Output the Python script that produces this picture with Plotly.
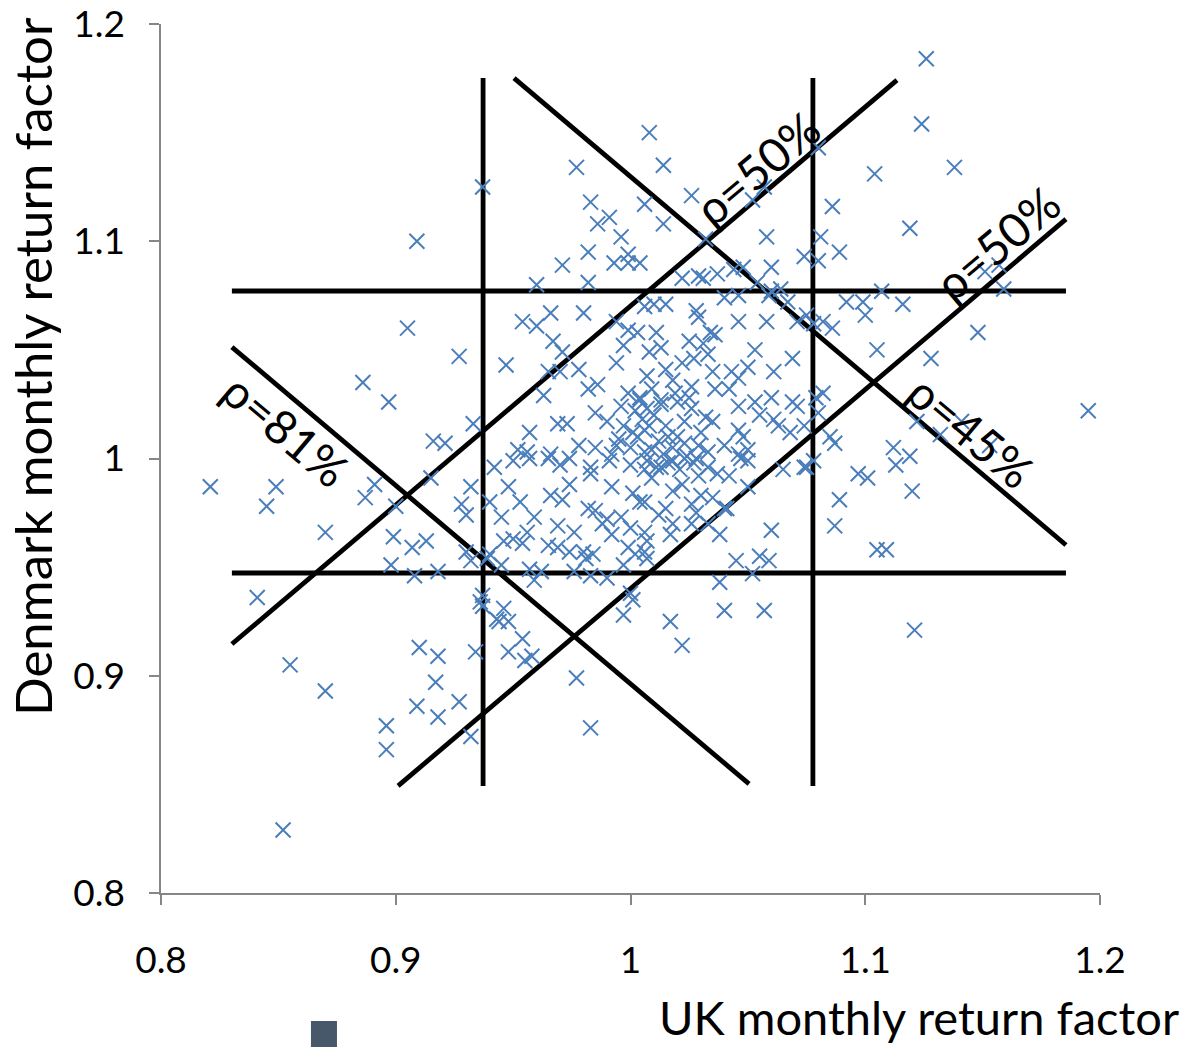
import plotly.graph_objects as go

# Monthly return factors (UK, Denmark)
uk_dk_points = [
    (1.126, 1.184), (1.124, 1.154), (1.138, 1.134), (1.104, 1.131), (1.008, 1.150),
    (1.014, 1.135), (0.977, 1.134), (0.937, 1.125), (0.909, 1.100), (0.905, 1.060),
    (0.886, 1.035), (0.897, 1.026), (0.927, 1.047), (0.821, 0.987), (0.849, 0.987),
    (0.845, 0.978), (0.870, 0.966), (0.841, 0.936), (0.855, 0.905), (0.870, 0.893),
    (0.852, 0.829), (0.896, 0.877), (0.896, 0.866), (0.910, 0.913), (0.918, 0.909),
    (0.917, 0.897), (0.909, 0.886), (0.927, 0.888), (0.918, 0.881), (0.932, 0.872),
    (0.977, 0.899), (0.983, 0.876), (0.997, 0.928), (1.017, 0.925), (1.022, 0.914),
    (1.040, 0.930), (1.057, 0.930), (1.121, 0.921), (1.195, 1.022), (1.148, 1.058),
    (1.157, 1.089), (1.151, 1.086), (1.159, 1.078), (1.086, 1.116), (1.119, 1.106),
    (1.058, 1.102), (1.060, 1.088), (1.081, 1.102), (1.089, 1.095), (1.074, 1.093),
    (1.080, 1.091), (1.107, 1.077), (1.080, 1.143), (1.057, 1.125), (1.052, 1.119),
    (1.032, 1.101), (1.048, 1.088), (1.037, 1.085), (1.044, 1.087), (1.031, 1.083),
    (1.054, 1.081), (1.064, 1.078), (1.060, 1.077),
    (0.983, 1.118), (1.006, 1.117), (0.991, 1.111), (0.986, 1.108), (1.026, 1.121),
    (1.014, 1.108), (0.996, 1.102), (0.982, 1.095), (0.999, 1.094), (0.993, 1.090),
    (0.999, 1.090), (1.004, 1.090), (0.971, 1.089), (0.982, 1.081), (0.960, 1.080),
    (1.022, 1.083), (1.029, 1.084),
    (0.933, 1.016), (0.916, 1.008), (0.921, 1.007), (0.891, 0.988), (0.887, 0.982),
    (0.915, 0.991), (0.900, 0.978), (0.932, 0.987), (0.928, 0.979), (0.930, 0.974),
    (0.899, 0.964), (0.907, 0.959), (0.913, 0.962), (0.898, 0.951), (0.908, 0.946),
    (0.918, 0.948), (0.930, 0.957), (0.932, 0.953),
    (0.934, 0.911), (0.937, 0.932), (0.936, 0.934), (0.946, 0.931), (0.944, 0.925),
    (0.948, 0.925), (0.954, 0.917), (0.948, 0.911), (0.958, 0.909), (0.955, 0.907),
    (1.001, 0.935),
    (1.092, 1.072), (1.099, 1.072), (1.100, 1.066), (1.116, 1.071), (1.075, 1.066),
    (1.078, 1.062), (1.082, 1.063), (1.086, 1.060), (1.105, 1.050), (1.128, 1.046),
    (1.079, 1.028), (1.082, 1.030), (1.080, 1.021), (1.074, 1.015), (1.122, 1.017),
    (1.132, 1.011), (1.141, 1.017), (1.153, 1.006), (1.085, 1.010), (1.087, 1.007),
    (1.112, 1.005), (1.119, 1.001), (1.113, 0.997), (1.078, 0.999), (1.075, 0.996),
    (1.097, 0.993), (1.101, 0.991), (1.120, 0.985), (1.089, 0.981), (1.087, 0.969),
    (1.105, 0.958), (1.109, 0.958),
    (1.065, 0.995), (1.074, 0.996), (1.050, 0.987), (1.060, 0.967), (1.045, 0.953),
    (1.055, 0.955), (1.059, 0.953), (1.052, 0.947), (1.038, 0.943), (1.038, 0.965),
    (1.040, 0.977), (1.033, 0.970),
    (0.954, 1.063), (0.966, 1.067), (0.980, 1.067), (0.960, 1.061), (0.994, 1.063),
    (0.999, 1.059), (0.967, 1.054), (0.947, 1.043), (0.971, 1.049), (0.965, 1.040),
    (0.970, 1.040), (0.978, 1.041), (0.963, 1.029), (0.982, 1.032), (0.986, 1.034),
    (0.994, 1.044), (0.997, 1.052), (1.003, 1.058), (1.006, 1.070), (0.957, 1.012),
    (0.969, 1.016), (0.973, 1.016), (0.985, 1.021), (0.990, 1.017), (0.996, 1.024),
    (0.952, 1.004), (0.956, 1.003), (0.966, 1.002), (0.978, 1.006), (0.985, 1.005),
    (0.994, 1.006), (0.999, 1.030), (1.004, 1.027), (1.001, 1.012),
    (1.010, 1.071), (1.015, 1.071), (1.028, 1.068), (1.029, 1.065), (1.040, 1.074),
    (1.046, 1.075), (1.059, 1.075), (1.067, 1.072), (1.046, 1.063), (1.058, 1.063),
    (1.071, 1.063), (1.011, 1.058), (1.034, 1.058), (1.036, 1.057), (1.025, 1.054),
    (1.031, 1.053), (1.013, 1.051), (1.053, 1.050), (1.069, 1.046), (1.008, 1.049),
    (1.027, 1.046), (1.033, 1.048), (1.022, 1.044), (1.061, 1.040), (1.050, 1.042),
    (1.043, 1.040), (1.046, 1.037), (1.035, 1.040), (1.015, 1.041), (1.018, 1.036),
    (1.007, 1.038), (1.026, 1.033), (1.036, 1.032), (1.042, 1.032), (1.053, 1.026),
    (1.046, 1.024), (1.055, 1.020), (1.061, 1.018), (1.060, 1.028), (1.069, 1.026),
    (1.071, 1.024), (1.063, 1.015), (1.068, 1.012), (1.013, 1.027), (1.020, 1.026),
    (1.007, 1.023), (1.026, 1.023), (1.032, 1.019), (1.035, 1.017), (1.023, 1.017),
    (1.015, 1.015), (1.046, 1.013), (1.048, 1.010), (1.016, 1.010), (1.006, 1.013),
    (1.023, 1.007), (1.029, 1.006), (1.040, 1.006), (1.050, 1.004), (1.046, 1.002),
    (1.009, 1.004),
    (0.942, 0.996), (0.950, 0.999), (0.957, 1.000), (0.965, 1.000), (0.970, 0.997),
    (0.974, 1.000), (0.983, 0.996), (0.991, 0.999), (1.000, 0.997), (1.006, 0.995),
    (0.948, 0.987), (0.953, 0.980), (0.940, 0.980), (0.945, 0.973), (0.959, 0.973),
    (0.966, 0.983), (0.971, 0.981), (0.974, 0.988), (0.983, 0.993), (0.992, 0.987),
    (1.001, 0.984), (0.982, 0.977), (0.985, 0.976), (0.988, 0.970), (0.990, 0.972),
    (0.996, 0.973), (0.992, 0.965), (1.000, 0.968), (1.004, 0.980), (1.006, 0.966),
    (0.969, 0.969), (0.976, 0.966), (0.956, 0.966), (0.946, 0.962), (0.950, 0.963),
    (0.954, 0.961), (0.965, 0.960), (0.974, 0.957), (0.980, 0.957), (0.981, 0.954),
    (0.984, 0.956), (0.939, 0.954), (0.940, 0.956), (0.945, 0.951), (0.957, 0.949),
    (0.959, 0.944), (0.962, 0.948), (0.969, 0.959), (0.976, 0.948), (0.983, 0.946),
    (0.990, 0.945), (0.997, 0.951), (0.999, 0.959), (1.000, 0.938), (1.006, 0.957),
    (1.002, 0.956), (0.937, 0.937), (0.943, 0.926),
    (1.007, 0.999), (1.013, 0.996), (1.018, 0.999), (1.023, 1.000), (1.028, 1.000),
    (1.033, 0.996), (1.037, 0.993), (1.042, 0.992), (1.047, 1.000), (1.050, 0.999),
    (1.009, 0.991), (1.018, 0.985), (1.006, 0.980), (1.015, 0.977), (1.012, 0.974),
    (1.026, 0.979), (1.030, 0.983), (1.035, 0.982), (1.028, 0.975), (1.018, 0.970),
    (1.017, 0.965), (1.026, 0.970), (1.007, 0.962), (1.007, 0.954), (1.041, 0.977),
    (1.002, 1.022), (1.005, 1.018), (1.008, 1.015), (1.010, 1.020), (1.012, 1.008),
    (1.003, 1.010), (1.000, 1.005), (1.006, 1.003), (1.014, 1.002), (1.018, 1.005),
    (1.020, 1.010), (1.024, 1.001), (1.027, 0.998), (1.021, 0.995), (1.016, 0.998),
    (1.011, 0.996), (1.004, 1.028), (1.009, 1.032), (1.013, 1.025), (0.997, 1.015),
    (0.995, 1.009), (0.992, 1.002), (1.019, 1.030), (1.025, 1.028), (1.030, 1.012),
    (1.033, 1.003), (1.029, 0.992), (1.022, 0.988),
]
uk_returns = [p[0] for p in uk_dk_points]
dk_returns = [p[1] for p in uk_dk_points]

# Region boundaries: thresholds on each market and the correlation lines
uk_thresholds = [0.9372, 1.0777]
dk_thresholds = [0.9473, 1.0771]
threshold_span_y = [0.8493, 1.1751]
threshold_span_x = [0.8302, 1.1855]
diag_lines = [
    ([0.8302, 1.1135], [0.9146, 1.1742]),   # rho = 50%, upper
    ([0.9010, 1.1855], [0.8493, 1.1102]),   # rho = 50%, lower
    ([0.8302, 1.0505], [1.0513, 0.8502]),   # rho = 81%
    ([0.9504, 1.1855], [1.1751, 0.9602]),   # rho = 45%
]
rho_labels = ["ρ=81%", "ρ=50%", "ρ=50%", "ρ=45%"]
rho_label_pos = [(0.8533, 1.0131, 40), (1.0539, 1.1337, -40), (1.1561, 1.0992, -40), (1.1450, 1.0125, 40)]

FONT = "Lato, 'Open Sans', sans-serif"
LINE = dict(color="black", width=4.8)

fig = go.Figure()

for x in uk_thresholds:
    fig.add_trace(go.Scatter(x=[x, x], y=threshold_span_y, mode="lines", line=LINE,
                             hoverinfo="skip", showlegend=False))
for y in dk_thresholds:
    fig.add_trace(go.Scatter(x=threshold_span_x, y=[y, y], mode="lines", line=LINE,
                             hoverinfo="skip", showlegend=False))
for xs, ys in diag_lines:
    fig.add_trace(go.Scatter(x=xs, y=ys, mode="lines", line=LINE,
                             hoverinfo="skip", showlegend=False))

fig.add_trace(go.Scatter(
    x=uk_returns, y=dk_returns, mode="markers",
    marker=dict(symbol="x-thin", size=15, line=dict(color="#4A7EBB", width=2), color="#4A7EBB"),
    showlegend=False,
))

annotations = []
for text, (ax, ay, ang) in zip(rho_labels, rho_label_pos):
    annotations.append(dict(x=ax, y=ay, xref="x", yref="y", text=text, showarrow=False,
                            textangle=ang, font=dict(family=FONT, size=47, color="black"),
                            xanchor="center", yanchor="middle"))

annotations.append(dict(x=-0.1363, y=0.6053, xref="paper", yref="paper",
                        text="Denmark monthly return factor", showarrow=False, textangle=-90,
                        font=dict(family=FONT, size=51, color="black"),
                        xanchor="center", yanchor="middle"))
annotations.append(dict(x=1.0852, y=-0.1765, xref="paper", yref="paper",
                        text="UK monthly return factor", showarrow=False,
                        font=dict(family=FONT, size=47, color="black"),
                        xanchor="right", yanchor="bottom", borderpad=0))

axis_common = dict(
    range=[0.8, 1.2], dtick=0.1, tick0=0.8, showgrid=False, zeroline=False,
    showline=True, linecolor="#868686", linewidth=1.5,
    ticks="outside", ticklen=10, tickcolor="#868686", tickwidth=1.5,
    tickfont=dict(family=FONT, size=37, color="black"),
    automargin=False, ticklabeloverflow="allow",
)

fig.update_layout(
    width=1184, height=1047,
    margin=dict(l=161, r=84, t=24, b=154, autoexpand=False),
    paper_bgcolor="white", plot_bgcolor="white",
    xaxis=dict(**axis_common, ticklabelstandoff=24),
    yaxis=dict(**axis_common, ticklabelstandoff=17),
    annotations=annotations,
    shapes=[dict(type="rect", xref="paper", yref="paper",
                 x0=0.1597, x1=0.1874, y0=-0.1807, y1=-0.1473,
                 fillcolor="#46586A", line=dict(width=0))],
)

fig.write_html("out.html")
